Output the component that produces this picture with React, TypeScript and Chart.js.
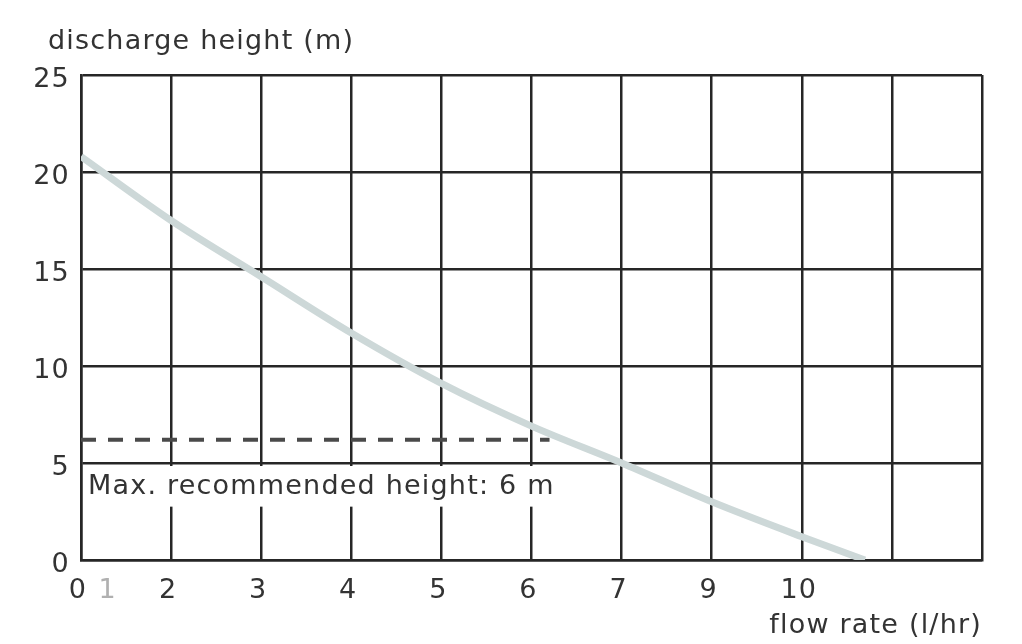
import React, { useEffect, useRef } from "react";
import { Chart, registerables } from "chart.js";

Chart.register(...registerables);

// ---- data ----
const FLOW_POS = [0, 1, 2, 3, 4, 5, 6, 7, 8, 8.7];
const HEIGHT_M = [20.8, 17.5, 14.6, 11.7, 9.1, 6.9, 5.0, 3.0, 1.2, 0];

const MAX_LINE_X = [0, 5.2];
const MAX_LINE_Y = [6.2, 6.2];

const X_TICK_VALUES = [0, 0.33, 1, 2, 3, 4, 5, 6, 7, 8, 9, 10];
const X_TICK_LABELS = ["0", "1", "2", "3", "4", "5", "6", "7", "9", "10", "", ""];
const FAINT_TICK = 0.33;

const Y_TITLE = "discharge height (m)";
const X_TITLE = "flow rate (l/hr)";
const NOTE_TEXT = "Max. recommended height: 6 m";

const FONT = "'DejaVu Sans', sans-serif";
const GRID = "#262626";
const TEXT = "#333333";
const SPACING = "1.2px";

const spacingPlugin = {
  id: "spacing",
  afterLayout(chart: any) {
    // place the horizontal y-axis caption above the axis labels
    if (chart.titleBlock) chart.titleBlock.left = 48;
  },
  beforeDraw(chart: any) {
    (chart.ctx as any).letterSpacing = SPACING;
  },
};

const noteBoxPlugin = {
  id: "noteBox",
  beforeDatasetsDraw(chart: any) {
    const { ctx, chartArea, scales } = chart;
    const x = scales.x;
    const y = scales.y;
    const top = y.getPixelForValue(5) + 3;
    const bottom = y.getPixelForValue(2.75);
    const left = chartArea.left + 2;
    const right = x.getPixelForValue(5.4);
    ctx.save();
    ctx.fillStyle = "#ffffff";
    ctx.fillRect(left, top, right - left, bottom - top);
    ctx.fillStyle = TEXT;
    ctx.font = `27px ${FONT}`;
    (ctx as any).letterSpacing = SPACING;
    ctx.textAlign = "left";
    ctx.textBaseline = "middle";
    ctx.fillText(NOTE_TEXT, chartArea.left + 7, y.getPixelForValue(3.75));
    ctx.restore();
  },
};

export default function App() {
  const ref = useRef<HTMLCanvasElement | null>(null);

  useEffect(() => {
    if (!ref.current) return;
    const chart = new Chart(ref.current, {
      type: "line",
      data: {
        datasets: [
          {
            label: "curve",
            data: FLOW_POS.map((x, i) => ({ x, y: HEIGHT_M[i] })),
            borderColor: "#cdd8d8",
            borderWidth: 7,
            pointRadius: 0,
            cubicInterpolationMode: "monotone",
            fill: false,
          },
          {
            label: "max",
            data: MAX_LINE_X.map((x, i) => ({ x, y: MAX_LINE_Y[i] })),
            borderColor: "#4a4a4a",
            borderWidth: 4,
            borderDash: [15, 12],
            pointRadius: 0,
            fill: false,
          },
        ],
      },
      options: {
        animation: false,
        responsive: false,
        events: [],
        layout: { padding: { left: 0, right: 40, top: 0, bottom: 0 } },
        plugins: {
          legend: { display: false },
          tooltip: { enabled: false },
          title: {
            display: true,
            text: Y_TITLE,
            align: "start",
            color: TEXT,
            font: { family: FONT, size: 27, weight: "normal" },
            padding: { top: 26, bottom: 16.6 },
          },
        },
        scales: {
          x: {
            type: "linear",
            min: 0,
            max: 10,
            afterBuildTicks: (scale: any) => {
              scale.ticks = X_TICK_VALUES.map((v) => ({ value: v }));
            },
            afterFit: (scale: any) => {
              scale.height = 84;
            },
            grid: {
              color: (c: any) =>
                c.tick && c.tick.value === FAINT_TICK ? "rgba(0,0,0,0)" : GRID,
              lineWidth: 2.5,
              drawTicks: false,
            },
            border: { display: true, color: GRID, width: 2.5 },
            ticks: {
              autoSkip: false,
              maxRotation: 0,
              minRotation: 0,
              padding: 15,
              labelOffset: -3,
              color: (c: any) =>
                c.tick && c.tick.value === FAINT_TICK ? "#b0b0b0" : TEXT,
              font: { family: FONT, size: 27 },
              callback: (v: any) => {
                const i = X_TICK_VALUES.indexOf(Number(v));
                return i >= 0 ? X_TICK_LABELS[i] : "";
              },
            },
            title: {
              display: true,
              text: X_TITLE,
              align: "end",
              color: TEXT,
              font: { family: FONT, size: 27 },
              padding: { top: 0, bottom: 2 },
            },
          },
          y: {
            type: "linear",
            min: 0,
            max: 25,
            afterFit: (scale: any) => {
              scale.width = 81;
            },
            grid: { color: GRID, lineWidth: 2.5, drawTicks: false },
            border: { display: true, color: GRID, width: 2.5 },
            ticks: {
              stepSize: 5,
              padding: 11,
              labelOffset: 5,
              color: TEXT,
              font: { family: FONT, size: 27 },
            },
          },
        },
      },
      plugins: [spacingPlugin, noteBoxPlugin],
    } as any);
    return () => chart.destroy();
  }, []);

  return (
    <div style={{ position: "absolute", left: 0, top: 0, width: 1022, height: 644, background: "#fff" }}>
      <canvas ref={ref} width={1022} height={644} />
    </div>
  );
}
